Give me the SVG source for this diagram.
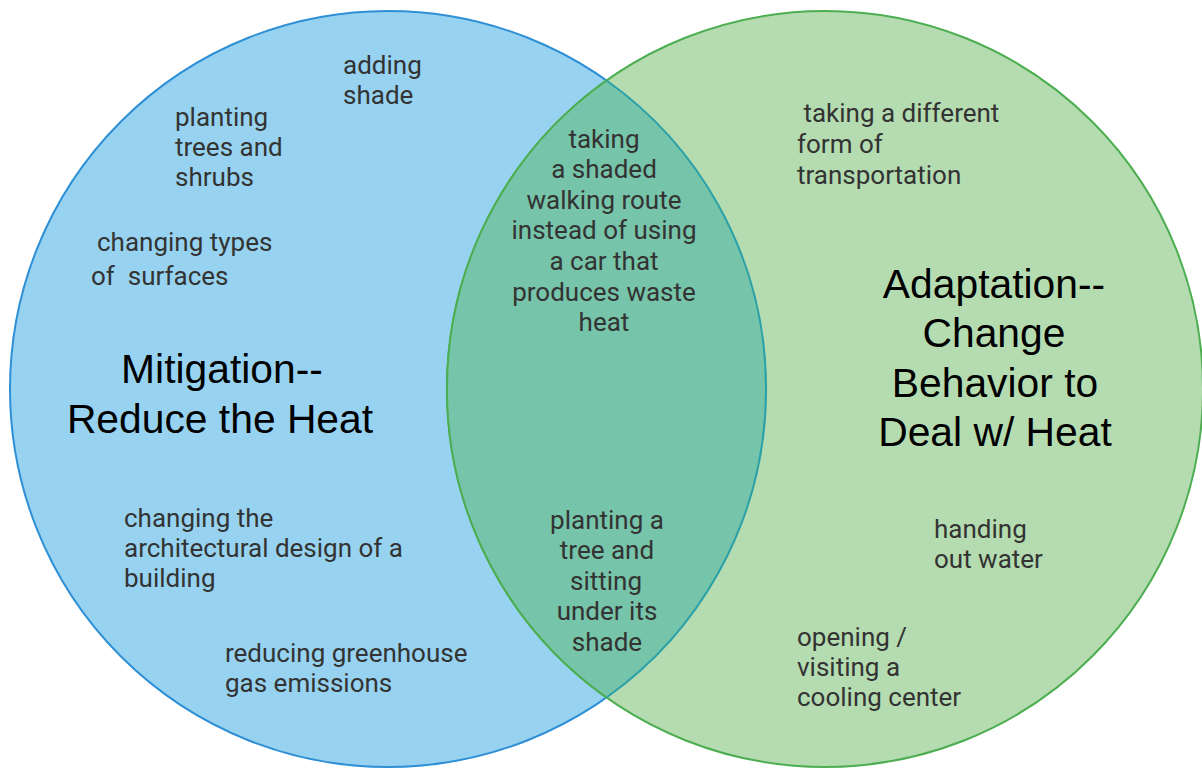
<svg xmlns="http://www.w3.org/2000/svg" width="1202" height="769" viewBox="0 0 1202 769">
<style>
.item{font-family:Roboto,"Noto Sans",sans-serif;font-size:26px;fill:#333333}
.mid{text-anchor:middle}
.title{font-family:"Liberation Sans",Arial,sans-serif;font-size:40.8px;fill:#000;text-anchor:middle}
</style>
<rect width="1202" height="769" fill="#ffffff"/>
<g id="set-mitigation">
<circle cx="388" cy="389" r="378" fill="#97d3f0" stroke="#2e8fd5" stroke-width="2"/>
</g>
<g id="set-adaptation">
<circle cx="825" cy="389" r="378" fill="#b5dcb1" stroke="#4cae50" stroke-width="2"/>
</g>
<g id="overlap">
<path d="M606.5 80.5 A378 378 0 0 1 606.5 697.5 A378 378 0 0 1 606.5 80.5 Z" fill="#76c4a9"/>
<path d="M606.5 80.5 A378 378 0 0 1 606.5 697.5" fill="none" stroke="#2aa0a8" stroke-width="2"/>
<path d="M606.5 697.5 A378 378 0 0 1 606.5 80.5" fill="none" stroke="#4cae50" stroke-width="2"/>
</g>
<g id="title-mitigation">
<text class="title" x="222" y="383">Mitigation--</text>
<text class="title" x="220" y="433">Reduce the Heat</text>
</g>
<g id="title-adaptation">
<text class="title" x="994" y="298">Adaptation--</text>
<text class="title" x="994" y="347">Change</text>
<text class="title" x="995" y="397">Behavior to</text>
<text class="title" x="995" y="446">Deal w/ Heat</text>
</g>
<g id="item-adding-shade">
<text class="item" x="343" y="74">adding</text>
<text class="item" x="343" y="104">shade</text>
</g>
<g id="item-planting-trees">
<text class="item" x="175" y="126">planting</text>
<text class="item" x="175" y="156">trees and</text>
<text class="item" x="175" y="186">shrubs</text>
</g>
<g id="item-surfaces">
<text class="item" x="97" y="251">changing types</text>
<text class="item" x="91" y="285" xml:space="preserve">of  surfaces</text>
</g>
<g id="item-architecture">
<text class="item" x="124" y="527">changing the</text>
<text class="item" x="124" y="557">architectural design of a</text>
<text class="item" x="124" y="587">building</text>
</g>
<g id="item-greenhouse">
<text class="item" x="225" y="662">reducing greenhouse</text>
<text class="item" x="225" y="692">gas emissions</text>
</g>
<g id="item-shaded-route">
<text class="item mid" x="604" y="148">taking</text>
<text class="item mid" x="604" y="178">a shaded</text>
<text class="item mid" x="604" y="209">walking route</text>
<text class="item mid" x="604" y="239">instead of using</text>
<text class="item mid" x="604" y="270">a car that</text>
<text class="item mid" x="604" y="301">produces waste</text>
<text class="item mid" x="604" y="331">heat</text>
</g>
<g id="item-tree-shade">
<text class="item mid" x="607" y="529">planting a</text>
<text class="item mid" x="607" y="559">tree and</text>
<text class="item mid" x="606" y="590">sitting</text>
<text class="item mid" x="607" y="620">under its</text>
<text class="item mid" x="607" y="651">shade</text>
</g>
<g id="item-transportation">
<text class="item" x="797" y="122" xml:space="preserve"> taking a different</text>
<text class="item" x="797" y="153">form of</text>
<text class="item" x="797" y="184">transportation</text>
</g>
<g id="item-water">
<text class="item" x="934" y="538">handing</text>
<text class="item" x="934" y="568">out water</text>
</g>
<g id="item-cooling">
<text class="item" x="797" y="646">opening /</text>
<text class="item" x="797" y="676">visiting a</text>
<text class="item" x="797" y="706">cooling center</text>
</g>
</svg>
